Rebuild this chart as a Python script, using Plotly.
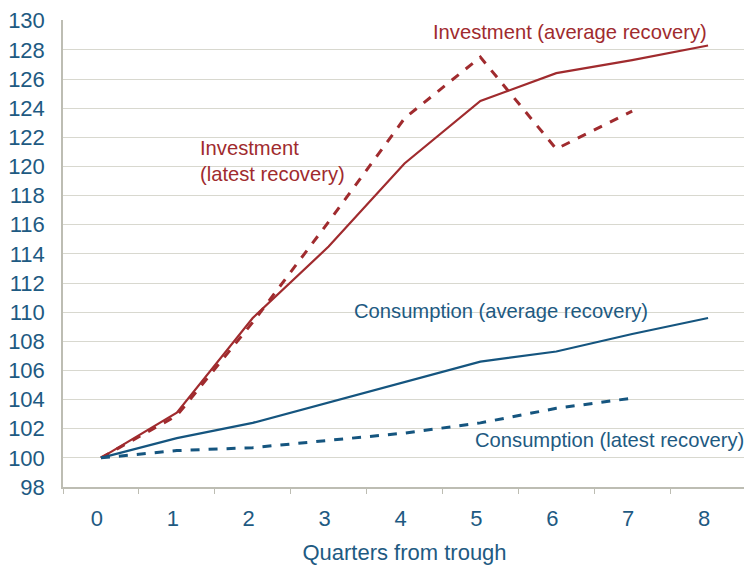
import plotly.graph_objects as go

quarters = ["0", "1", "2", "3", "4", "5", "6", "7", "8"]
inv_avg = [100, 103.1, 109.6, 114.5, 120.2, 124.5, 126.4, 127.3, 128.3]
inv_latest = [100, 102.9, 109.3, 116.2, 123.3, 127.5, 121.2, 123.8]
cons_avg = [100, 101.35, 102.4, 103.8, 105.2, 106.6, 107.3, 108.5, 109.6]
cons_latest = [100, 100.5, 100.7, 101.2, 101.7, 102.4, 103.4, 104.1]

red = "#A02B2E"
blue = "#15557F"
txt_blue = "#1E5A82"

fig = go.Figure()
fig.add_trace(go.Scatter(x=quarters, y=inv_avg, mode="lines",
                         line=dict(color=red, width=2.2)))
fig.add_trace(go.Scatter(x=quarters[:len(inv_latest)], y=inv_latest, mode="lines",
                         line=dict(color=red, width=3, dash="dash")))
fig.add_trace(go.Scatter(x=quarters, y=cons_avg, mode="lines",
                         line=dict(color=blue, width=2.2)))
fig.add_trace(go.Scatter(x=quarters[:len(cons_latest)], y=cons_latest, mode="lines",
                         line=dict(color=blue, width=3, dash="dash")))

## labels on the lines ##
notes = [
    ("Investment (average recovery)", 6.18, 129.25, "center", red),
    ("Investment<br>(latest recovery)", 1.28, 120.4, "left", red),
    ("Consumption (average recovery)", 3.31, 110.1, "left", txt_blue),
    ("Consumption (latest recovery)", 4.9, 101.2, "left", txt_blue),
]
for text, x, y, anchor, col in notes:
    fig.add_annotation(x=x, y=y, xref="x", yref="y", text=text, showarrow=False,
                       xanchor=anchor, align="left",
                       font=dict(family="Liberation Sans, Arial", size=20.2, color=col))

# page body adds 8px, so margins are trimmed by that
fig.update_layout(
    width=752, height=568,
    margin=dict(l=55, r=14, t=12, b=89),
    plot_bgcolor="white", paper_bgcolor="white",
    showlegend=False,
    font=dict(family="Liberation Sans, Arial", color=txt_blue, size=22),
)
fig.update_xaxes(
    type="category", tickson="boundaries", ticks="outside", ticklen=5,
    tickcolor="#BDBDB3", showline=True, linecolor="#BDBDB3", linewidth=1.5,
    showgrid=False, range=[-0.5, 8.5], ticklabelstandoff=11, ticklabelshift=-4,
    tickfont=dict(size=22, color=txt_blue), automargin=False,
    title=dict(text="Quarters from trough", font=dict(size=22, color=txt_blue), standoff=14),
)
fig.update_yaxes(
    range=[98, 130.05], dtick=2, tick0=98, showline=True, linecolor="#BDBDB3", linewidth=1.5,
    showgrid=True, gridcolor="#D8D8CF", gridwidth=1.2, zeroline=False,
    tickfont=dict(size=22, color=txt_blue), ticks="", ticklabelstandoff=12,
    ticklabeloverflow="allow", automargin=False,
)
fig.write_html("out.html")
